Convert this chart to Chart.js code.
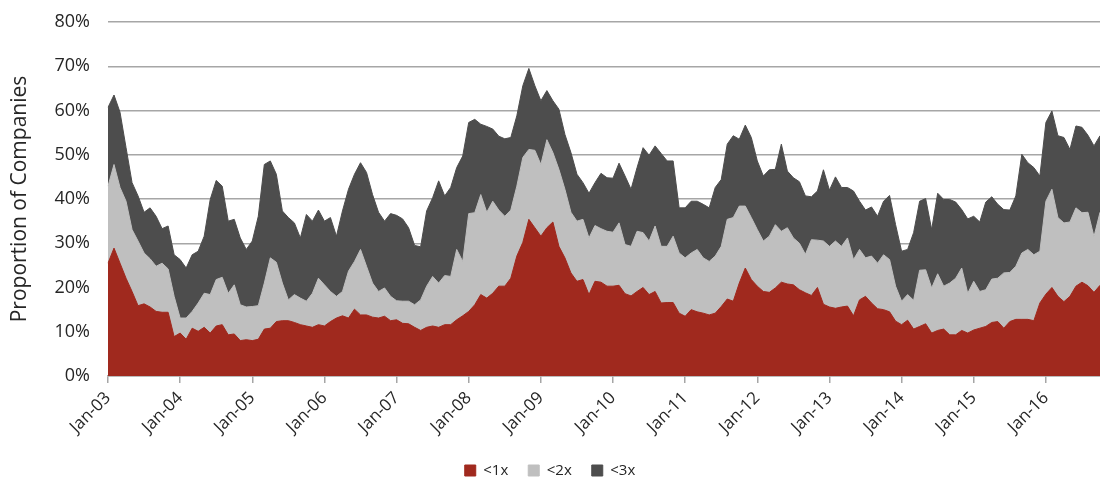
<!DOCTYPE html>
<html>
<head>
    <title>Proportion of Companies</title>
    <script src="https://cdn.jsdelivr.net/npm/chart.js"></script>
    <style>
        body { margin: 0; padding: 0; background: #fff; overflow: hidden; }
        .chart-container { width: 1100px; height: 485px; }
    </style>
</head>
<body>
    <div class="chart-container">
        <canvas id="coverChart" width="1100" height="485"></canvas>
    </div>

    <script>
        // Month labels, Jan-03 .. Oct-16
        const years = ['03','04','05','06','07','08','09','10','11','12','13','14','15','16'];
        const months = ['Jan','Feb','Mar','Apr','May','Jun','Jul','Aug','Sep','Oct','Nov','Dec'];
        const lastMonthIdx = 9; // Oct-16

        // Proportion of companies (%)
        const under1x = [
            25.5, 28.9, 25.5, 22.1, 19.1, 15.9, 16.3, 15.6, 14.6, 14.4, 14.4, 8.9,
            9.7, 8.3, 10.8, 10.1, 11.0, 9.7, 11.3, 11.6, 9.3, 9.5, 8.0, 8.2,
            8.0, 8.3, 10.6, 10.8, 12.3, 12.5, 12.5, 12.1, 11.6, 11.3, 11.0, 11.6,
            11.3, 12.3, 13.1, 13.6, 13.1, 15.1, 13.8, 13.8, 13.3, 13.1, 13.5, 12.5,
            12.7, 11.9, 11.8, 11.0, 10.3, 11.0, 11.3, 11.0, 11.6, 11.6, 12.7, 13.6,
            14.6, 16.1, 18.4, 17.6, 18.7, 20.3, 20.3, 22.1, 27.1, 30.2, 35.4, 33.5,
            31.6, 33.5, 34.8, 29.3, 26.7, 23.3, 21.4, 21.8, 18.4, 21.4, 21.2, 20.3,
            20.3, 20.5, 18.6, 18.1, 19.1, 20.0, 18.4, 19.1, 16.5, 16.6, 16.6, 14.2,
            13.5, 15.0, 14.5, 14.2, 13.8, 14.2, 15.7, 17.4, 16.9, 21.0, 24.4, 21.8,
            20.3, 19.1, 18.9, 19.9, 21.2, 20.8, 20.6, 19.5, 18.8, 18.2, 20.0, 16.2,
            15.6, 15.3, 15.6, 15.8, 13.6, 17.2, 18.0, 16.5, 15.2, 15.0, 14.5, 12.4,
            11.6, 12.6, 10.6, 11.2, 11.8, 9.7, 10.3, 10.6, 9.3, 9.3, 10.3, 9.7,
            10.4, 10.8, 11.2, 12.1, 12.3, 10.8, 12.3, 12.8, 12.8, 12.8, 12.5, 16.5,
            18.5, 20.0, 18.0, 16.8, 18.0, 20.3, 21.2, 20.4, 18.9, 20.5
        ];
        const under2x = [
            42.9, 47.8, 42.6, 39.5, 33.1, 30.5, 27.8, 26.5, 24.8, 25.5, 24.2, 18.0,
            13.1, 13.1, 14.6, 16.5, 18.7, 18.4, 21.8, 22.3, 18.7, 20.6, 16.1, 15.6,
            15.7, 15.9, 21.0, 26.7, 25.7, 21.0, 17.2, 18.4, 17.6, 16.9, 18.7, 22.1,
            20.6, 19.1, 18.0, 19.1, 23.7, 25.9, 28.6, 24.8, 21.0, 19.1, 19.9, 18.0,
            17.0, 16.9, 16.9, 16.1, 17.2, 20.3, 22.5, 21.0, 22.7, 22.5, 28.6, 25.9,
            36.7, 36.9, 41.0, 37.0, 39.5, 37.5, 36.1, 37.5, 42.9, 49.4, 51.2, 51.0,
            47.8, 53.4, 50.5, 46.7, 42.2, 37.0, 35.0, 35.4, 31.2, 34.0, 33.3, 32.7,
            32.5, 34.6, 29.7, 29.3, 32.7, 32.4, 30.5, 33.9, 29.3, 29.3, 31.6, 27.8,
            26.7, 27.8, 28.6, 26.7, 25.9, 27.1, 29.3, 35.4, 35.8, 38.4, 38.4, 35.8,
            33.1, 30.5, 31.6, 34.2, 32.7, 33.5, 31.2, 30.0, 27.5, 30.8, 30.7, 30.5,
            29.3, 30.5, 29.3, 31.2, 26.3, 28.6, 26.7, 27.1, 25.5, 27.4, 26.3, 20.3,
            16.9, 18.4, 17.1, 23.9, 24.0, 19.9, 23.1, 20.3, 21.0, 22.1, 24.4, 18.7,
            21.4, 19.1, 19.5, 21.9, 22.1, 23.3, 23.4, 24.8, 27.8, 28.6, 27.4, 28.2,
            39.5, 42.2, 35.8, 34.6, 34.8, 38.0, 36.9, 37.0, 31.5, 37.0
        ];
        const under3x = [
            60.7, 63.5, 59.6, 51.6, 43.7, 40.7, 37.0, 38.0, 36.1, 33.3, 33.9, 27.4,
            26.3, 24.4, 27.4, 28.2, 31.6, 39.9, 44.2, 42.9, 35.0, 35.4, 31.2, 28.6,
            30.5, 36.1, 47.8, 48.6, 45.6, 37.3, 35.8, 34.6, 31.2, 36.5, 35.0, 37.5,
            35.0, 35.8, 31.6, 37.3, 42.2, 45.6, 48.2, 46.0, 41.0, 37.0, 35.0, 36.7,
            36.3, 35.5, 33.5, 29.5, 29.2, 37.3, 40.3, 44.1, 40.7, 42.6, 47.1, 49.7,
            57.3, 58.0, 56.9, 56.4, 55.8, 54.2, 53.6, 53.9, 58.8, 65.6, 69.5, 65.6,
            62.2, 64.5, 62.2, 60.3, 54.6, 50.5, 45.6, 43.7, 41.3, 43.7, 45.8, 44.8,
            44.7, 48.1, 45.2, 42.2, 47.1, 51.6, 49.9, 52.0, 50.3, 48.6, 48.6, 38.0,
            38.0, 39.5, 39.5, 38.8, 38.0, 42.6, 44.4, 52.4, 54.3, 53.5, 56.7, 53.9,
            48.6, 45.2, 46.6, 46.7, 52.4, 46.3, 44.8, 43.9, 40.7, 40.5, 41.8, 46.6,
            42.0, 45.0, 42.6, 42.6, 41.8, 39.5, 37.5, 38.2, 36.1, 39.5, 40.8, 34.2,
            28.2, 28.6, 32.4, 39.5, 40.1, 33.1, 41.3, 39.9, 39.9, 39.3, 37.6, 35.5,
            36.1, 34.8, 39.3, 40.5, 38.8, 37.6, 37.5, 40.7, 50.1, 48.2, 47.1, 45.2,
            57.3, 59.9, 54.3, 53.9, 51.2, 56.5, 56.2, 54.4, 52.0, 54.3
        ];
        const yTicks = [0, 10, 20, 30, 40, 50, 60, 70, 80];

        const labels = [];
        years.forEach((yy, i) => {
            months.forEach((mm, j) => {
                if (i === years.length - 1 && j > lastMonthIdx) return;
                labels.push(mm + '-' + yy);
            });
        });

        const fontFamily = "'Open Sans', sans-serif";
        const textColor = '#262626';

        const ctx = document.getElementById('coverChart').getContext('2d');
        const chart = new Chart(ctx, {
            type: 'line',
            data: {
                labels: labels,
                datasets: [
                    { label: '<1x', data: under1x, backgroundColor: '#A0291E', borderColor: '#A0291E' },
                    { label: '<2x', data: under2x, backgroundColor: '#BFBFBF', borderColor: '#BFBFBF' },
                    { label: '<3x', data: under3x, backgroundColor: '#4D4D4D', borderColor: '#4D4D4D' }
                ].map(ds => Object.assign(ds, {
                    fill: 'origin',
                    borderWidth: 1,
                    pointRadius: 0,
                    pointHoverRadius: 0,
                    tension: 0
                }))
            },
            options: {
                responsive: false,
                maintainAspectRatio: false,
                animation: false,
                // small negative bottom padding so the legend row sits lower
                layout: { padding: { top: 22, right: 0, bottom: -3, left: 0 } },
                plugins: {
                    tooltip: { enabled: false },
                    legend: {
                        position: 'bottom',
                        labels: {
                            boxWidth: 11,
                            boxHeight: 11,
                            padding: 20,
                            color: textColor,
                            font: { family: fontFamily, size: 15 }
                        }
                    }
                },
                scales: {
                    x: {
                        offset: false,
                        grid: {
                            drawOnChartArea: false,
                            color: '#A6A6A6',
                            lineWidth: 1.5,
                            tickLength: 7
                        },
                        border: { color: '#A6A6A6', width: 1.5 },
                        ticks: {
                            autoSkip: false,
                            minRotation: 45,
                            maxRotation: 45,
                            padding: 5,
                            color: textColor,
                            font: { family: fontFamily, size: 17 },
                            callback: function(value, index) {
                                return index % 12 === 0 ? labels[index] : null;
                            }
                        },
                        afterFit: function(scale) { scale.height = 67; }
                    },
                    y: {
                        min: yTicks[0],
                        max: yTicks[yTicks.length - 1],
                        afterBuildTicks: function(scale) {
                            scale.ticks = yTicks.map(v => ({ value: v }));
                        },
                        grid: {
                            color: '#A6A6A6',
                            lineWidth: 1.5,
                            drawTicks: false
                        },
                        border: { display: false },
                        ticks: {
                            padding: 18,
                            color: textColor,
                            font: { family: fontFamily, size: 18 },
                            callback: v => v + '%'
                        },
                        title: {
                            display: true,
                            text: 'Proportion of Companies',
                            color: textColor,
                            padding: { top: 7, bottom: 0 },
                            font: { family: fontFamily, size: 21 }
                        },
                        afterFit: function(scale) {
                            scale.width = 108;
                            scale.paddingTop = 0;
                            scale.paddingBottom = 0;
                        }
                    }
                }
            }
        });
    </script>
</body>
</html>
